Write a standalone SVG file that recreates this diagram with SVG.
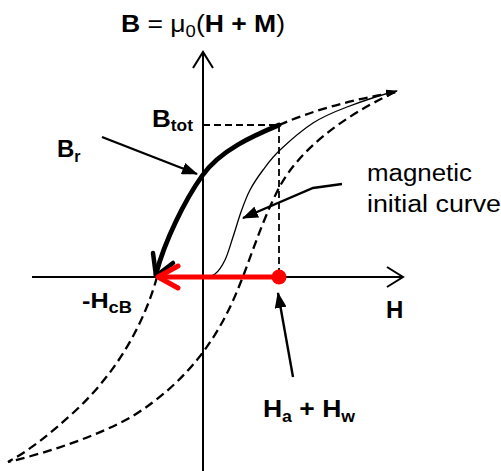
<svg xmlns="http://www.w3.org/2000/svg" width="501" height="471" viewBox="0 0 501 471">
<style>
text{font-family:"Liberation Sans",Arial,sans-serif;fill:#000}
.b{font-weight:bold}
.axis{stroke:#000;stroke-width:2;fill:none}
.dash{stroke:#000;stroke-width:2.3;fill:none;stroke-dasharray:9,5}
.thin{stroke:#000;stroke-width:1.3;fill:none}
.ptr{stroke:#000;stroke-width:2.4;fill:none}
</style>
<defs>
<marker id="tri" viewBox="0 0 16 12" refX="15" refY="6" markerWidth="16" markerHeight="12" markerUnits="userSpaceOnUse" orient="auto">
<path d="M0,0 L16,6 L0,12 Z" fill="#000"/>
</marker>
<marker id="tri2" viewBox="0 0 12 8" refX="11" refY="4" markerWidth="12" markerHeight="8" markerUnits="userSpaceOnUse" orient="auto">
<path d="M0,0 L12,4 L0,8 Z" fill="#000"/>
</marker>
</defs>
<g id="axes">
<line class="axis" x1="203" y1="471" x2="203" y2="52"/>
<polyline class="axis" points="193,68 203,52 213,68"/>
<line class="axis" x1="32" y1="277" x2="403" y2="277"/>
<polyline class="axis" points="387,267 403,277 387,287"/>
</g>
<g id="connectors">
<line class="dash" x1="203" y1="125" x2="279" y2="125" style="stroke-width:1.8;stroke-dasharray:7,4"/>
<line class="dash" x1="279" y1="125" x2="279" y2="277" style="stroke-width:1.8;stroke-dasharray:7,4"/>
<path class="dash" d="M279,125 Q330,103 397,92"/>
<path class="dash" d="M395,92 C340,118 300,150 280,186 C262,220 250,260 240,284 C220,335 190,380 133,416 C100,435 50,452 8,462"/>
<path class="dash" d="M157,277 C145,320 120,370 73,413 C50,434 30,450 8,462"/>
<path class="thin" marker-end="url(#tri2)" d="M203,277 C207,277 211.3,276.8 215,274 C218.7,271.2 222,266.2 225,260 C228,253.8 230.3,245 233,237 C235.7,229 238.2,219.8 241,212 C243.8,204.2 246.3,197 250,190 C253.7,183 258,176.7 263,170 C268,163.3 271.7,157.8 280,150 C288.3,142.2 301.8,130.2 313,123 C324.2,115.8 333.3,112.2 347,107 C360.7,101.8 380,95 397,91"/>
<path d="M279,125 C255,135 220,150 202,176 C185,200 165,240 156,274" stroke="#000" stroke-width="4.8" fill="none" stroke-linecap="round"/>
<polyline points="153,253 156,276 173,263" stroke="#000" stroke-width="4.5" fill="none" stroke-linecap="round" stroke-linejoin="round"/>
<line x1="272" y1="277" x2="160" y2="277" stroke="#f00" stroke-width="5"/>
<polyline points="178,266 158,277 178,288" stroke="#f00" stroke-width="5" fill="none" stroke-linecap="round" stroke-linejoin="round"/>
<line class="ptr" x1="102" y1="137" x2="197" y2="174" marker-end="url(#tri)"/>
<polyline class="ptr" points="342,184 313,188 243,218" marker-end="url(#tri)"/>
<line class="ptr" x1="293" y1="377" x2="278" y2="293" marker-end="url(#tri)"/>
</g>
<g id="point-Ha">
<circle cx="279" cy="277" r="7.5" fill="#f00"/>
</g>
<g id="label-B">
<text x="121" y="32" font-size="23" textLength="164" lengthAdjust="spacingAndGlyphs"><tspan class="b">B</tspan> = μ<tspan font-size="16" dy="5">0</tspan><tspan dy="-5">(</tspan><tspan class="b">H + M</tspan>)</text>
</g>
<g id="label-Btot">
<text x="152" y="127" font-size="24" class="b" textLength="41" lengthAdjust="spacingAndGlyphs">B<tspan font-size="16" dy="4">tot</tspan></text>
</g>
<g id="label-Br">
<text x="57" y="157" font-size="24" class="b">B<tspan font-size="16" dy="5">r</tspan></text>
</g>
<g id="label-initial">
<text x="367" y="181" font-size="23" textLength="105" lengthAdjust="spacingAndGlyphs">magnetic</text>
<text x="367" y="212" font-size="23" textLength="134" lengthAdjust="spacingAndGlyphs">initial curve</text>
</g>
<g id="label-HcB">
<text x="82" y="308" font-size="22" class="b" textLength="50" lengthAdjust="spacingAndGlyphs">-H<tspan font-size="16" dy="5">cB</tspan></text>
</g>
<g id="label-H">
<text x="386" y="318" font-size="24" class="b">H</text>
</g>
<g id="label-HaHw">
<text x="263" y="417" font-size="24" class="b" textLength="92" lengthAdjust="spacingAndGlyphs">H<tspan font-size="16" dy="5">a</tspan><tspan dy="-5"> + H</tspan><tspan font-size="16" dy="5">w</tspan></text>
</g>
</svg>
